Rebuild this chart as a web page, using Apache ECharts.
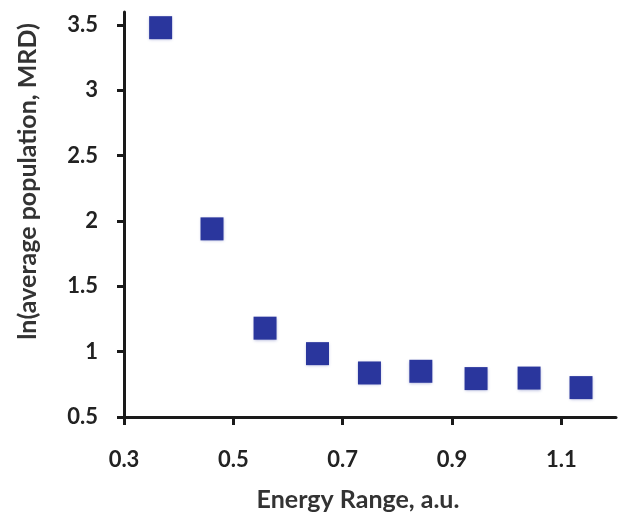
<!DOCTYPE html>
<html>
<head>
<meta charset="utf-8">
<script src="https://cdn.jsdelivr.net/npm/echarts@6/dist/echarts.min.js"></script>
<style>
  html, body { margin: 0; padding: 0; background: #fff; }
  #container { width: 618px; height: 513px; }
</style>
</head>
<body>
<div id="container"></div>
<script>
// energy range (a.u.) vs ln(average population, MRD)
var energy = [0.367, 0.461, 0.558, 0.654, 0.749, 0.843, 0.944, 1.041, 1.136];
var lnPop = [3.48, 1.94, 1.18, 0.985, 0.837, 0.85, 0.794, 0.798, 0.725];
var xTicks = [0.3, 0.5, 0.7, 0.9, 1.1];
var yTicks = [0.5, 1, 1.5, 2, 2.5, 3, 3.5];

var points = energy.map(function (x, i) { return [x, lnPop[i]]; });

var dom = document.getElementById("container");
var myChart = echarts.init(dom);
var labelFont = {
    fontFamily: 'Lato',
    fontWeight: 'bold',
    fontSize: 22,
    color: '#222'
};
var option = {
    backgroundColor: '#fff',
    animation: false,
    grid: {
        left: 124,
        right: 2,
        top: 12,
        bottom: 96,
        outerBoundsMode: 'none'
    },
    xAxis: {
        type: 'value',
        min: 0.3,
        max: 1.2,
        name: 'Energy Range, a.u.',
        nameLocation: 'middle',
        nameGap: 70,
        nameTextStyle: {
            fontFamily: 'Lato',
            fontWeight: 'bold',
            fontSize: 25,
            color: '#333',
            padding: [0, 24, 0, 0]
        },
        axisLine: { show: true, lineStyle: { color: '#1a1a1a', width: 3 } },
        axisTick: {
            show: true,
            length: 8,
            customValues: xTicks,
            lineStyle: { color: '#1a1a1a', width: 3 }
        },
        axisLabel: Object.assign({
            customValues: xTicks,
            margin: 32
        }, labelFont),
        splitLine: { show: false }
    },
    yAxis: {
        type: 'value',
        min: 0.5,
        max: 3.6,
        name: 'ln(average population, MRD)',
        nameLocation: 'middle',
        nameGap: 84,
        nameTextStyle: {
            fontFamily: 'Lato',
            fontWeight: 'bold',
            fontSize: 25,
            color: '#333',
            padding: [0, 0, 0, 66]
        },
        axisLine: { show: true, lineStyle: { color: '#1a1a1a', width: 3 } },
        axisTick: {
            show: true,
            length: 7,
            customValues: yTicks,
            lineStyle: { color: '#1a1a1a', width: 3 }
        },
        axisLabel: Object.assign({
            customValues: yTicks,
            margin: 26
        }, labelFont),
        splitLine: { show: false }
    },
    series: [{
        type: 'scatter',
        data: points,
        symbol: 'rect',
        symbolSize: 23,
        itemStyle: {
            color: '#2a369d',
            opacity: 1,
            shadowColor: 'rgba(40,53,157,0.35)',
            shadowBlur: 3,
            shadowOffsetY: 1
        }
    }]
};
myChart.setOption(option, true);
</script>
</body>
</html>
